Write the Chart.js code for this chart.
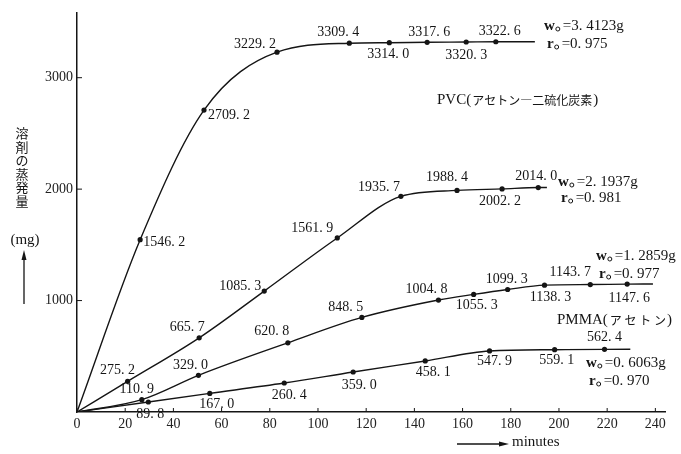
<!DOCTYPE html>
<html>
<head>
<meta charset="utf-8">
<script src="https://cdn.jsdelivr.net/npm/chart.js@4"></script>
<style>
html, body { margin: 0; background: #fff; }
#wrap { width: 681px; height: 454px; }
</style>
</head>
<body>
<div id="wrap"><canvas id="grafico"></canvas></div>
<script>
// tiempos (minutos) y cantidades evaporadas (mg)
const tiempo1 = [0, 26.2, 52.7, 83, 113, 129.6, 145.3, 161.5, 173.8, 190];
const valor1  = [0, 1546.2, 2709.2, 3229.2, 3309.4, 3314.0, 3317.6, 3320.3, 3322.6, 3323];
const tiempo2 = [0, 21, 50.7, 77.7, 108, 134.4, 157.7, 176.4, 191.4, 195];
const valor2  = [0, 275.2, 665.7, 1085.3, 1561.9, 1935.7, 1988.4, 2002.2, 2014.0, 2014.5];
const tiempo3 = [0, 26.9, 50.4, 87.5, 118.2, 150, 164.6, 178.7, 194, 213, 228.3, 239];
const valor3  = [0, 110.9, 329.0, 620.8, 848.5, 1004.8, 1055.3, 1099.3, 1138.3, 1143.7, 1147.6, 1148.5];
const tiempo4 = [0, 29.6, 55.1, 86, 114.6, 144.5, 171.2, 198.2, 218.9, 229.6];
const valor4  = [0, 89.8, 167.0, 260.4, 359.0, 458.1, 547.9, 559.1, 562.4, 562.6];

const pesos = ['3. 4123g', '2. 1937g', '1. 2859g', '0. 6063g'];
const erres = ['0. 975', '0. 981', '0. 977', '0. 970'];
const ticksX = [0, 20, 40, 60, 80, 100, 120, 140, 160, 180, 200, 220, 240];
const ticksY = [1000, 2000, 3000];

// desplazamiento de cada etiqueta respecto a su punto (solo estilo)
const desp = [
    [[24, 3], [25, 5], [-22, -8], [-11, -11], [-1, 12], [2, -10], [0, 13], [4, -10]],
    [[-10, -11], [-12, -10], [-24, -5], [-25, -10], [-22, -9], [-10, -13], [-2, 12], [-2, -11]],
    [[-5, -10], [-8, -10], [-16, -11], [-16, -10], [-12, -11], [3, 11], [-1, -10], [6, 12], [-20, -12], [2, 14]],
    [[2, 12], [7, 11], [5, 12], [6, 13], [8, 11], [5, 10], [2, 11], [0, -12]]
];

const NEGRO = '#151515';
const SERIF = '"Liberation Serif", "DejaVu Serif", serif';
const CJK = '"Noto Sans CJK JP", sans-serif';

function serie(t, v) {
    return {
        data: t.map((x, i) => ({ x: x, y: v[i] })),
        borderColor: NEGRO,
        borderWidth: 1.4,
        pointBackgroundColor: NEGRO,
        pointBorderWidth: 0,
        pointRadius: ctx => (ctx.dataIndex === 0 || ctx.dataIndex === t.length - 1) ? 0 : 2.6,
        cubicInterpolationMode: 'monotone',
        fill: false
    };
}

const fondo = {
    id: 'fondo',
    beforeDraw(chart) {
        const c = chart.ctx;
        c.save();
        c.fillStyle = '#fff';
        c.fillRect(0, 0, chart.width, chart.height);
        c.restore();
    }
};

function flecha(c, x1, y1, x2, y2) {
    const ang = Math.atan2(y2 - y1, x2 - x1);
    c.beginPath();
    c.moveTo(x1, y1);
    c.lineTo(x2 - 8 * Math.cos(ang), y2 - 8 * Math.sin(ang));
    c.stroke();
    c.beginPath();
    c.moveTo(x2, y2);
    c.lineTo(x2 - 10 * Math.cos(ang) + 2.5 * Math.sin(ang), y2 - 10 * Math.sin(ang) - 2.5 * Math.cos(ang));
    c.lineTo(x2 - 10 * Math.cos(ang) - 2.5 * Math.sin(ang), y2 - 10 * Math.sin(ang) + 2.5 * Math.cos(ang));
    c.closePath();
    c.fill();
}

function parametro(c, letra, resto, x, y) {
    c.textAlign = 'left';
    c.textBaseline = 'middle';
    c.font = 'bold 15px ' + SERIF;
    c.fillText(letra, x, y);
    const w = c.measureText(letra).width;
    c.beginPath();
    c.arc(x + w + 3, y + 3, 2, 0, Math.PI * 2);
    c.lineWidth = 1;
    c.stroke();
    c.font = '15px ' + SERIF;
    c.fillText('=' + resto, x + w + 8, y);
}

const textos = {
    id: 'textos',
    afterDraw(chart) {
        const c = chart.ctx;
        const sx = chart.scales.x, sy = chart.scales.y;
        c.save();
        c.fillStyle = NEGRO;
        c.strokeStyle = NEGRO;
        c.lineWidth = 1;

        // marcas hacia dentro
        ticksX.forEach(v => {
            const px = sx.getPixelForValue(v);
            c.beginPath(); c.moveTo(px, sy.bottom); c.lineTo(px, sy.bottom - 4); c.stroke();
        });
        ticksY.forEach(v => {
            const py = sy.getPixelForValue(v);
            c.beginPath(); c.moveTo(sx.left, py); c.lineTo(sx.left + 5, py); c.stroke();
        });

        // etiquetas de los puntos
        c.font = '14px ' + SERIF;
        c.textAlign = 'center';
        c.textBaseline = 'middle';
        chart.data.datasets.forEach((ds, k) => {
            const meta = chart.getDatasetMeta(k);
            for (let i = 1; i < ds.data.length - 1; i++) {
                const p = meta.data[i];
                const o = desp[k][i - 1];
                const txt = ds.data[i].y.toFixed(1).replace('.', '. ');
                c.fillText(txt, p.x + o[0], p.y + o[1]);
            }
        });

        // parametros de cada curva
        const pos = [[544, 26, 547, 44], [558, 182, 561, 198], [596, 256, 599, 274], [586, 363, 589, 381]];
        pos.forEach((q, k) => {
            parametro(c, 'w', pesos[k], q[0], q[1]);
            parametro(c, 'r', erres[k], q[2], q[3]);
        });

        c.textAlign = 'left';
        c.textBaseline = 'middle';
        c.font = '15px ' + SERIF;
        c.fillText('PVC(', 437, 100);
        let w = c.measureText('PVC(').width;
        c.font = '12px ' + CJK;
        c.fillText('アセトン―二硫化炭素', 437 + w + 1, 100);
        let w2 = c.measureText('アセトン―二硫化炭素').width;
        c.font = '15px ' + SERIF;
        c.fillText(')', 437 + w + w2 + 2, 100);

        c.fillText('PMMA(', 557, 320);
        w = c.measureText('PMMA(').width;
        c.font = '12px ' + CJK;
        c.fillText('ア セ ト ン', 557 + w + 2, 320);
        w2 = c.measureText('ア セ ト ン').width;
        c.font = '15px ' + SERIF;
        c.fillText(')', 557 + w + w2 + 3, 320);

        // titulo del eje y
        c.textAlign = 'center';
        c.font = '13px ' + CJK;
        '溶剤の蒸発量'.split('').forEach((ch, i) => c.fillText(ch, 22, 133 + i * 13.6));
        c.font = '15px ' + SERIF;
        c.fillText('(mg)', 25, 240);
        c.lineWidth = 1.3;
        flecha(c, 24, 304, 24, 250);

        // titulo del eje x
        c.textAlign = 'left';
        c.fillText('minutes', 512, 442);
        flecha(c, 457, 444, 509, 444);
        c.restore();
    }
};

Chart.defaults.font.family = SERIF;
Chart.defaults.color = '#222';

new Chart(document.getElementById('grafico'), {
    type: 'line',
    data: {
        datasets: [
            serie(tiempo1, valor1),
            serie(tiempo2, valor2),
            serie(tiempo3, valor3),
            serie(tiempo4, valor4)
        ]
    },
    options: {
        responsive: true,
        maintainAspectRatio: false,
        animation: false,
        layout: { padding: { left: 0, top: 5, right: 16, bottom: 0 } },
        plugins: {
            legend: { display: false },
            tooltip: { enabled: false }
        },
        scales: {
            x: {
                type: 'linear',
                min: 0,
                max: 244,
                afterFit: s => { s.height = 42; },
                afterBuildTicks: s => { s.ticks = ticksX.map(v => ({ value: v })); },
                grid: { display: false, drawTicks: false },
                border: { display: true, color: NEGRO, width: 1.5 },
                ticks: { padding: 4, font: { size: 14 }, color: '#222', maxRotation: 0, autoSkip: false,
                         callback: v => String(v) }
            },
            y: {
                min: 0,
                max: 3586,
                afterFit: s => { s.width = 77; },
                afterBuildTicks: s => { s.ticks = ticksY.map(v => ({ value: v })); },
                grid: { display: false, drawTicks: false },
                border: { display: true, color: NEGRO, width: 1.5 },
                ticks: { padding: 4, font: { size: 14 }, color: '#222', callback: v => String(v) }
            }
        }
    },
    plugins: [fondo, textos]
});
</script>
</body>
</html>
